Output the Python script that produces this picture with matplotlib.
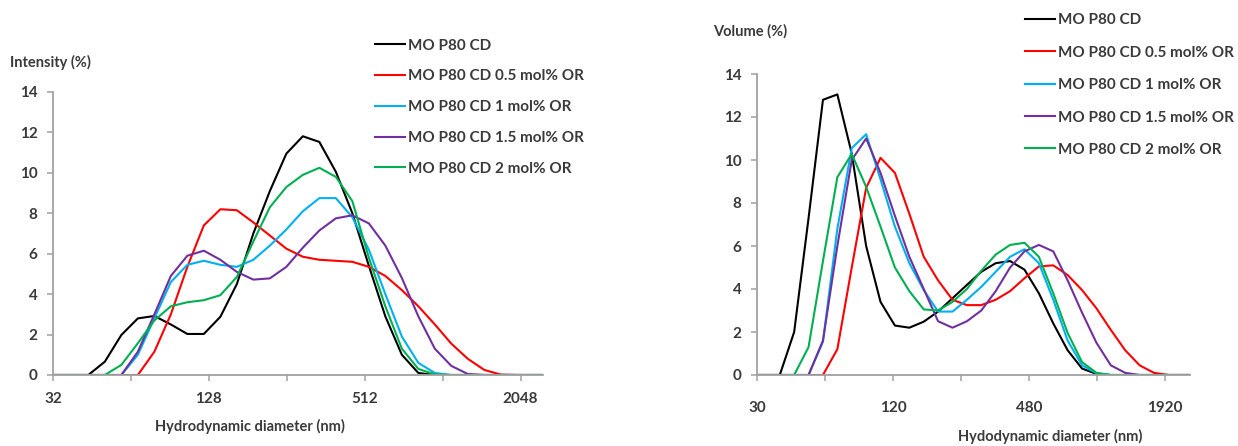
import matplotlib
matplotlib.use("Agg")
import matplotlib.pyplot as plt
from matplotlib.ticker import FixedLocator, NullFormatter, FixedFormatter

# size bins (nm) of the DLS distribution
sizes = [28.21, 32.67, 37.84, 43.82, 50.75, 58.77, 68.06, 78.82, 91.28, 105.7,
         122.4, 141.8, 164.2, 190.1, 220.2, 255.0, 295.3, 342.0, 396.1, 458.7,
         531.2, 615.1, 712.4, 825.0, 955.4, 1106, 1281, 1484, 1718, 1990, 2305, 2669]

labels = ["MO P80 CD", "MO P80 CD 0.5 mol% OR", "MO P80 CD 1 mol% OR",
          "MO P80 CD 1.5 mol% OR", "MO P80 CD 2 mol% OR"]
colors = ["#000000", "#FF0000", "#00B0F0", "#7030A0", "#00B050"]

# intensity distribution (%)
int_0 = [0, 0, 0, 0, 0.66, 1.98, 2.8, 2.92, 2.5, 2.03, 2.03, 2.88, 4.5, 7.0, 9.1, 10.95,
         11.81, 11.53, 10.05, 8.0, 5.4, 2.9, 1.0, 0.1, 0, 0, 0, 0, 0, 0, 0, 0]
int_05 = [0, 0, 0, 0, 0, 0, 0, 1.15, 3.0, 5.35, 7.4, 8.2, 8.15, 7.55, 6.9, 6.25,
          5.85, 5.7, 5.65, 5.6, 5.35, 4.9, 4.2, 3.4, 2.5, 1.55, 0.8, 0.25, 0.02, 0, 0, 0]
int_1 = [0, 0, 0, 0, 0, 0, 1.0, 2.8, 4.6, 5.45, 5.65, 5.45, 5.35, 5.7, 6.4, 7.2,
         8.1, 8.75, 8.75, 7.8, 6.2, 4.0, 1.9, 0.6, 0.1, 0, 0, 0, 0, 0, 0, 0]
int_15 = [0, 0, 0, 0, 0, 0, 1.15, 3.0, 4.9, 5.9, 6.15, 5.7, 5.1, 4.72, 4.78, 5.35,
          6.3, 7.15, 7.75, 7.9, 7.5, 6.4, 4.8, 2.9, 1.3, 0.45, 0.05, 0, 0, 0, 0, 0]
int_2 = [0, 0, 0, 0, 0, 0.5, 1.57, 2.7, 3.4, 3.6, 3.7, 3.95, 4.85, 6.6, 8.3, 9.3,
         9.9, 10.25, 9.8, 8.6, 5.8, 3.4, 1.3, 0.3, 0.03, 0, 0, 0, 0, 0, 0, 0]

# volume distribution (%)
vol_0 = [0, 0, 0, 2.0, 7.3, 12.8, 13.05, 10.3, 6.0, 3.4, 2.3, 2.2, 2.48, 2.95, 3.57, 4.19,
         4.8, 5.2, 5.3, 4.9, 3.8, 2.4, 1.15, 0.3, 0.05, 0, 0, 0, 0, 0, 0, 0]
vol_05 = [0, 0, 0, 0, 0, 0, 1.2, 5.0, 8.7, 10.1, 9.4, 7.5, 5.5, 4.4, 3.5, 3.25,
          3.25, 3.5, 3.9, 4.5, 5.05, 5.1, 4.65, 3.95, 3.1, 2.1, 1.15, 0.45, 0.1, 0, 0, 0]
vol_1 = [0, 0, 0, 0, 0, 1.55, 6.8, 10.55, 11.2, 9.1, 6.9, 5.2, 3.95, 2.95, 2.95, 3.5,
         4.1, 4.8, 5.5, 5.85, 5.2, 3.5, 1.6, 0.45, 0.08, 0, 0, 0, 0, 0, 0, 0]
vol_15 = [0, 0, 0, 0, 0, 1.6, 6.0, 10.0, 11.0, 9.4, 7.4, 5.5, 4.0, 2.5, 2.2, 2.5,
          3.0, 3.9, 5.0, 5.75, 6.05, 5.75, 4.4, 2.9, 1.5, 0.45, 0.1, 0, 0, 0, 0, 0]
vol_2 = [0, 0, 0, 0, 1.3, 5.3, 9.2, 10.28, 8.75, 6.9, 5.0, 3.9, 3.05, 3.0, 3.4, 4.0,
         4.85, 5.6, 6.05, 6.15, 5.5, 3.8, 1.95, 0.6, 0.1, 0, 0, 0, 0, 0, 0, 0]

left_ticks = [32, 128, 512, 2048]
left_minor = [64, 256, 1024]
right_ticks = [30, 120, 480, 1920]
right_minor = [60, 240, 960]

W, H = 1238, 446
TXT = "#3A3A3A"
AXC = "#A0A0A0"

plt.rcParams['font.family'] = ['Lato', 'DejaVu Sans']


def style_axis(ax, xlim, ticks, minor, pad_x):
    ax.set_xscale("log", base=2)
    ax.set_xlim(*xlim)
    ax.set_ylim(0, 14)
    ax.xaxis.set_major_locator(FixedLocator(ticks))
    ax.xaxis.set_major_formatter(FixedFormatter([str(t) for t in ticks]))
    ax.xaxis.set_minor_locator(FixedLocator(minor))
    ax.xaxis.set_minor_formatter(NullFormatter())
    ax.set_yticks(range(0, 15, 2))
    for s in ["top", "right"]:
        ax.spines[s].set_visible(False)
    for s in ["left", "bottom"]:
        ax.spines[s].set_color(AXC)
        ax.spines[s].set_linewidth(1.3)
    ax.tick_params(axis="both", which="both", direction="out", length=4,
                   width=1.1, color=AXC, labelcolor=TXT, labelsize=11)
    ax.tick_params(axis="x", which="major", pad=pad_x)
    ax.tick_params(axis="y", pad=7)
    for lab in ax.get_xticklabels() + ax.get_yticklabels():
        lab.set_fontweight("bold")


def draw_panel(ax, series):
    for vals, lab, col in zip(series, labels, colors):
        ax.plot(sizes, vals, color=col, lw=1.5, label=lab, clip_on=True)


def main():
    fig = plt.figure(figsize=(W / 100, H / 100), dpi=100)

    ax1 = fig.add_axes([53 / W, (H - 375) / H, 490 / W, 283 / H])
    draw_panel(ax1, [int_0, int_05, int_1, int_15, int_2])
    style_axis(ax1, (32, 2500), left_ticks, left_minor, 8)

    ax2 = fig.add_axes([757 / W, (H - 375) / H, 433 / W, 301 / H])
    draw_panel(ax2, [vol_0, vol_05, vol_1, vol_15, vol_2])
    style_axis(ax2, (30, 2480), right_ticks, right_minor, 15)

    fig.text(10 / W, 1 - 62 / H, "Intensity (%)", fontsize=10.5, fontweight="bold",
             color=TXT, va="center", ha="left")
    fig.text(713 / W, 1 - 31 / H, "Volume (%)", fontsize=10.5, fontweight="bold",
             color=TXT, va="center", ha="left")
    fig.text(250 / W, 1 - 426 / H, "Hydrodynamic diameter (nm)", fontsize=10.5,
             fontweight="bold", color=TXT, va="center", ha="center")
    fig.text(1050 / W, 1 - 436 / H, "Hydodynamic diameter (nm)", fontsize=10.5,
             fontweight="bold", color=TXT, va="center", ha="center")

    for ax, x0, y0, sp in [(ax1, 375, 38.5, 1.1), (ax2, 1025, 13.5, 1.2)]:
        leg = ax.legend(loc="upper left", bbox_to_anchor=(x0 / W, 1 - y0 / H),
                        bbox_transform=fig.transFigure, frameon=False,
                        fontsize=11, handlelength=1.95, handletextpad=0.2,
                        labelspacing=sp, borderpad=0, borderaxespad=0)
        for t in leg.get_texts():
            t.set_color(TXT)
            t.set_fontweight("bold")

    fig.savefig("out.png", dpi=100)


if __name__ == "__main__":
    main()
